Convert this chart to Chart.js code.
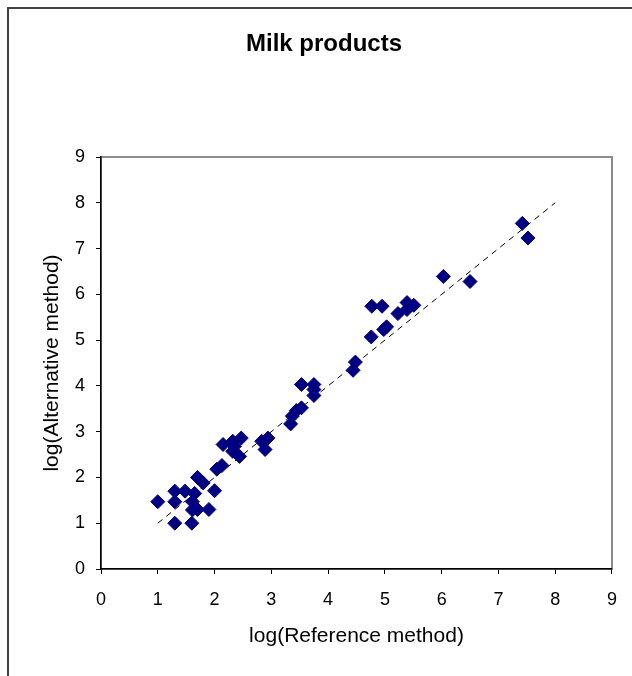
<!DOCTYPE html>
<html>
<head>
<meta charset="utf-8">
<script src="https://cdn.jsdelivr.net/npm/chart.js@4/dist/chart.umd.min.js"></script>
<style>
  html, body { margin: 0; padding: 0; background: #fff; }
  #wrap { width: 632px; height: 676px; position: relative; }
</style>
</head>
<body>
<div id="wrap"><canvas id="chart" width="632" height="676"></canvas></div>
<script>
// ---------------------------
// 1. Data
// ---------------------------
const refValues = [
  1.0, 1.3, 1.3, 1.3, 1.48, 1.6, 1.61, 1.61, 1.65, 1.7, 1.7, 1.8, 1.9, 2.0,
  2.04, 2.13, 2.15, 2.32, 2.32, 2.35, 2.44, 2.47, 2.83, 2.89, 2.94,
  3.34, 3.37, 3.44, 3.53, 3.53, 3.75, 3.75, 3.75, 4.44, 4.48,
  4.76, 4.77, 4.95, 4.98, 5.03, 5.23, 5.39, 5.39, 5.51, 6.03, 6.5, 7.42, 7.52
];
const altValues = [
  1.47, 1.0, 1.47, 1.7, 1.7, 1.0, 1.47, 1.29, 1.65, 2.0, 1.3, 1.88, 1.3, 1.71,
  2.18, 2.26, 2.72, 2.79, 2.57, 2.68, 2.46, 2.86, 2.79, 2.61, 2.86,
  3.17, 3.34, 3.46, 3.52, 4.03, 4.03, 3.92, 3.79, 4.34, 4.52,
  5.07, 5.74, 5.74, 5.23, 5.29, 5.58, 5.82, 5.67, 5.76, 6.39, 6.28, 7.55, 7.23
];
const lineX = [1, 8];
const lineY = [1, 8];
const axisTicks = [0, 1, 2, 3, 4, 5, 6, 7, 8, 9];

const points = refValues.map((x, i) => ({ x: x, y: altValues[i] }));
const linePoints = lineX.map((x, i) => ({ x: x, y: lineY[i] }));

const FONT = "'Liberation Sans', Arial, sans-serif";

// ---------------------------
// 2. Frames (outer border + plot area border)
// ---------------------------
const framePlugin = {
  id: 'frames',
  beforeDraw(chart) {
    const ctx = chart.ctx;
    const a = chart.chartArea;
    ctx.save();
    ctx.strokeStyle = '#404040';
    ctx.lineWidth = 2;
    ctx.beginPath();
    ctx.moveTo(8, 676);
    ctx.lineTo(8, 8);
    ctx.lineTo(632, 8);
    ctx.stroke();
    ctx.strokeStyle = '#8c8c8c';
    ctx.lineWidth = 2;
    ctx.strokeRect(a.left, a.top, a.right - a.left, a.bottom - a.top);
    ctx.restore();
  }
};

// ---------------------------
// 3. Chart
// ---------------------------
function axis(title, fitFn, titlePad, tickPad) {
  return {
    type: 'linear',
    min: 0,
    max: 9,
    afterBuildTicks: s => { s.ticks = axisTicks.map(v => ({ value: v })); },
    afterFit: fitFn,
    grid: {
      display: true,
      drawOnChartArea: false,
      drawTicks: true,
      tickLength: 5,
      color: '#000',
      lineWidth: 1
    },
    border: { display: true, color: '#000', width: 1.5 },
    ticks: {
      color: '#000',
      font: { family: FONT, size: 18 },
      padding: tickPad,
      autoSkip: false,
      maxRotation: 0
    },
    title: {
      display: true,
      text: title,
      color: '#000',
      font: { family: FONT, size: 21 },
      padding: titlePad
    }
  };
}

new Chart(document.getElementById('chart'), {
  data: {
    datasets: [
      {
        type: 'scatter',
        data: points,
        pointStyle: 'rectRot',
        pointRadius: 7,
        pointHoverRadius: 7,
        backgroundColor: '#000080',
        borderColor: '#000080',
        borderWidth: 1
      },
      {
        type: 'line',
        data: linePoints,
        borderColor: '#000',
        borderWidth: 1,
        borderDash: [6, 5],
        pointRadius: 0,
        fill: false
      }
    ]
  },
  options: {
    responsive: false,
    animation: false,
    events: [],
    layout: { padding: { left: 36, right: 20, top: 0, bottom: 0 } },
    plugins: {
      legend: { display: false },
      tooltip: { enabled: false },
      title: {
        display: true,
        text: 'Milk products',
        color: '#000',
        font: { family: FONT, size: 24, weight: 'bold' },
        padding: { top: 30, bottom: 98.2 }
      }
    },
    scales: {
      x: axis('log(Reference method)', s => { s.height = 107; }, { top: 0, bottom: 27.4 }, 15),
      y: axis('log(Alternative method)', s => { s.width = 65; }, { top: 3.4, bottom: 0 }, 11)
    }
  },
  plugins: [framePlugin]
});
</script>
</body>
</html>
